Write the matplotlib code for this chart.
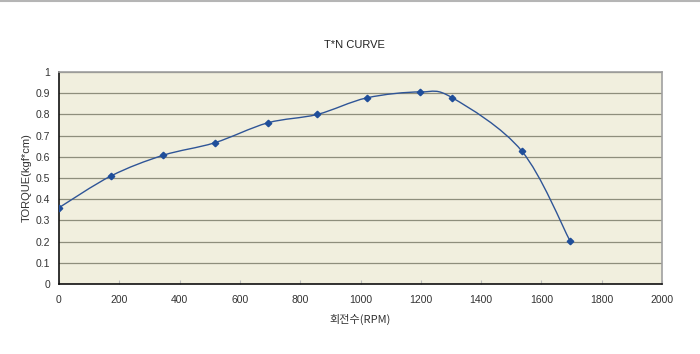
import numpy as np
import matplotlib
matplotlib.use("Agg")
import matplotlib.pyplot as plt
from matplotlib.path import Path
from matplotlib.patches import PathPatch
from matplotlib.lines import Line2D

plt.rcParams['font.family'] = ['Liberation Sans', 'Noto Sans CJK KR', 'DejaVu Sans']

rpm = [0, 173, 345, 516, 692, 857, 1021, 1199, 1305, 1535, 1695]
torque = [0.36, 0.51, 0.607, 0.666, 0.76, 0.80, 0.878, 0.906, 0.878, 0.627, 0.203]
x_ticks = [0, 200, 400, 600, 800, 1000, 1200, 1400, 1600, 1800, 2000]
y_ticks = [0, 0.1, 0.2, 0.3, 0.4, 0.5, 0.6, 0.7, 0.8, 0.9, 1]
y_labels = ['0', '0.1', '0.2', '0.3', '0.4', '0.5', '0.6', '0.7', '0.8', '0.9', '1']

fig = plt.figure(figsize=(7.0, 3.54), dpi=100)
ax = fig.add_axes([59/700, 1-284/354, (662-59)/700, (284-72)/354])
ax.set_facecolor('#F1EFDE')

# Excel-style smoothed line (Bezier with 1/6 tangent)
x = np.array(rpm, float); y = np.array(torque, float)
n = len(x)
verts = [(x[0], y[0])]
codes = [Path.MOVETO]
for i in range(n - 1):
    p0 = np.array([x[max(i-1, 0)], y[max(i-1, 0)]])
    p1 = np.array([x[i], y[i]])
    p2 = np.array([x[i+1], y[i+1]])
    p3 = np.array([x[min(i+2, n-1)], y[min(i+2, n-1)]])
    c1 = p1 + (p2 - p0) / 6
    c2 = p2 - (p3 - p1) / 6
    verts += [tuple(c1), tuple(c2), tuple(p2)]
    codes += [Path.CURVE4] * 3
patch = PathPatch(Path(verts, codes), facecolor='none', edgecolor='#2F5597', lw=1.0, zorder=3)
ax.add_patch(patch)
ax.plot(rpm, torque, linestyle='none', marker='D', ms=3.3, color='#1F4E9A', zorder=4)

ax.set_xlim(0, 2000)
ax.set_ylim(0, 1)
ax.set_xticks(x_ticks)
ax.set_xticklabels([str(v) for v in x_ticks])
ax.set_yticks(y_ticks)
ax.set_yticklabels(y_labels)
ax.yaxis.grid(True, color='#8E8E7C', lw=0.9)
ax.set_axisbelow(True)
ax.tick_params(axis='x', direction='in', length=3, color='#BBBBBB', labelsize=7.5, pad=8, labelcolor='#333333')
ax.tick_params(axis='y', length=0, labelsize=7.5, pad=6.5, labelcolor='#333333')

for s in ['top', 'right']:
    ax.spines[s].set_color('#A0A0A0')
    ax.spines[s].set_linewidth(1.2)
for s in ['left', 'bottom']:
    ax.spines[s].set_color('#111111')
    ax.spines[s].set_linewidth(1.2)

ax.set_xlabel('회전수(RPM)', fontsize=8, color='#333333', labelpad=6,
              family=['Noto Sans CJK KR', 'DejaVu Sans'])
ax.set_ylabel('TORQUE(kgf*cm)', fontsize=8, color='#333333', va='center')
ax.yaxis.set_label_coords((27 - 59) / (662 - 59), 0.5)
fig.text(354/700, 1-45/354, 'T*N CURVE', ha='center', va='center', fontsize=8, color='#222222')

fig.add_artist(Line2D([0, 1], [1-1/354, 1-1/354], color='#B5B5B5', lw=1.5, transform=fig.transFigure))

fig.savefig('out.png', dpi=100)
